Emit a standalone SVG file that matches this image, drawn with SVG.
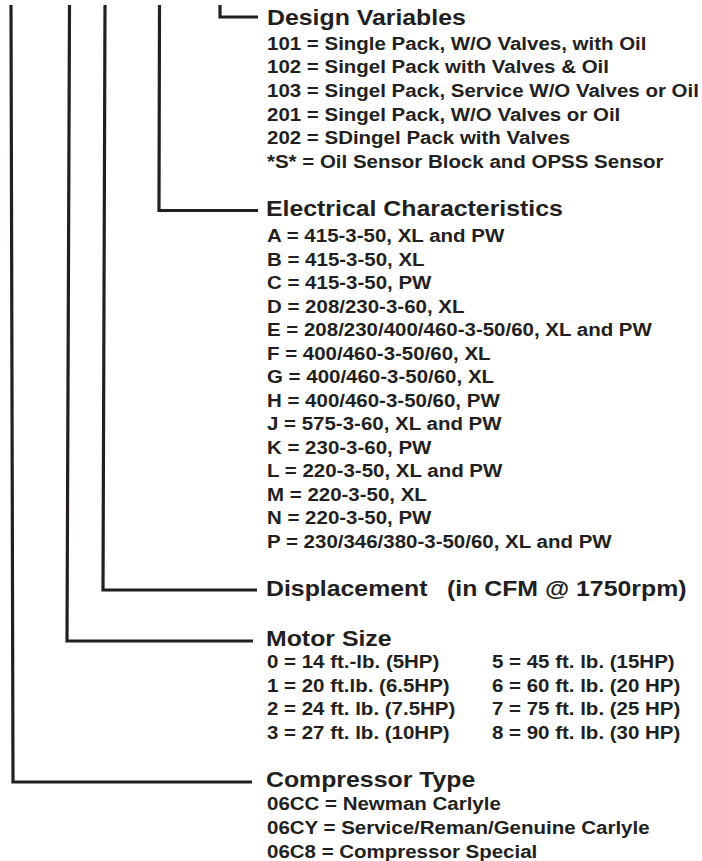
<svg xmlns="http://www.w3.org/2000/svg" width="702" height="861" viewBox="0 0 702 861">
<style>
.h{font-family:"Liberation Sans",Arial,Helvetica,sans-serif;font-weight:bold;font-size:22.2px;fill:#231f20}
.t{font-family:"Liberation Sans",Arial,Helvetica,sans-serif;font-weight:bold;font-size:18.3px;fill:#231f20}
.c{fill:none;stroke:#231f20;stroke-width:3.2;stroke-linejoin:miter}
</style>
<rect width="702" height="861" fill="#ffffff"/>
<g id="connectors">
<path class="c" d="M220,5 L220,17 L258,17"/>
<path class="c" d="M159.5,5 L159,210.5 L258,210.5"/>
<path class="c" d="M105,5 L103,590 L257,590"/>
<path class="c" d="M69.5,5 L67,641 L253,641"/>
<path class="c" d="M11,5 L13,782 L252,782"/>
</g>
<g id="design-variables">
<text class="h" transform="translate(267,25) scale(1.12,1)">Design Variables</text>
<text class="t" transform="translate(267,49.5) scale(1.12,1)">101 = Single Pack, W/O Valves, with Oil</text>
<text class="t" transform="translate(267,73.2) scale(1.12,1)">102 = Singel Pack with Valves &amp; Oil</text>
<text class="t" transform="translate(267,96.9) scale(1.12,1)">103 = Singel Pack, Service W/O Valves or Oil</text>
<text class="t" transform="translate(267,120.6) scale(1.12,1)">201 = Singel Pack, W/O Valves or Oil</text>
<text class="t" transform="translate(267,144.3) scale(1.12,1)">202 = SDingel Pack with Valves</text>
<text class="t" transform="translate(267,168) scale(1.12,1)">*S* = Oil Sensor Block and OPSS Sensor</text>
</g>
<g id="electrical-characteristics">
<text class="h" transform="translate(266,216) scale(1.12,1)">Electrical Characteristics</text>
<text class="t" transform="translate(267,242) scale(1.12,1)">A = 415-3-50, XL and PW</text>
<text class="t" transform="translate(267,265.5) scale(1.12,1)">B = 415-3-50, XL</text>
<text class="t" transform="translate(267,289) scale(1.12,1)">C = 415-3-50, PW</text>
<text class="t" transform="translate(267,312.5) scale(1.12,1)">D = 208/230-3-60, XL</text>
<text class="t" transform="translate(267,336) scale(1.12,1)">E = 208/230/400/460-3-50/60, XL and PW</text>
<text class="t" transform="translate(267,359.5) scale(1.12,1)">F = 400/460-3-50/60, XL</text>
<text class="t" transform="translate(267,383) scale(1.12,1)">G = 400/460-3-50/60, XL</text>
<text class="t" transform="translate(267,406.5) scale(1.12,1)">H = 400/460-3-50/60, PW</text>
<text class="t" transform="translate(267,430) scale(1.12,1)">J = 575-3-60, XL and PW</text>
<text class="t" transform="translate(267,453.5) scale(1.12,1)">K = 230-3-60, PW</text>
<text class="t" transform="translate(267,477) scale(1.12,1)">L = 220-3-50, XL and PW</text>
<text class="t" transform="translate(267,500.5) scale(1.12,1)">M = 220-3-50, XL</text>
<text class="t" transform="translate(267,524) scale(1.12,1)">N = 220-3-50, PW</text>
<text class="t" transform="translate(267,547.5) scale(1.12,1)">P = 230/346/380-3-50/60, XL and PW</text>
</g>
<g id="displacement">
<text class="h" transform="translate(266,595.5) scale(1.12,1)">Displacement<tspan x="161.6">(in CFM @ 1750rpm)</tspan></text>
</g>
<g id="motor-size">
<text class="h" transform="translate(266,646) scale(1.12,1)">Motor Size</text>
<text class="t" transform="translate(267,668) scale(1.12,1)">0 = 14 ft.-lb. (5HP)</text>
<text class="t" transform="translate(267,691.5) scale(1.12,1)">1 = 20 ft.lb. (6.5HP)</text>
<text class="t" transform="translate(267,715) scale(1.12,1)">2 = 24 ft. lb. (7.5HP)</text>
<text class="t" transform="translate(267,738.5) scale(1.12,1)">3 = 27 ft. lb. (10HP)</text>
<text class="t" transform="translate(492,668) scale(1.12,1)">5 = 45 ft. lb. (15HP)</text>
<text class="t" transform="translate(492,691.5) scale(1.12,1)">6 = 60 ft. lb. (20 HP)</text>
<text class="t" transform="translate(492,715) scale(1.12,1)">7 = 75 ft. lb. (25 HP)</text>
<text class="t" transform="translate(492,738.5) scale(1.12,1)">8 = 90 ft. lb. (30 HP)</text>
</g>
<g id="compressor-type">
<text class="h" transform="translate(266,787) scale(1.12,1)">Compressor Type</text>
<text class="t" transform="translate(267,810) scale(1.12,1)">06CC = Newman Carlyle</text>
<text class="t" transform="translate(267,834) scale(1.12,1)">06CY = Service/Reman/Genuine Carlyle</text>
<text class="t" transform="translate(267,858) scale(1.12,1)">06C8 = Compressor Special</text>
</g>
</svg>
